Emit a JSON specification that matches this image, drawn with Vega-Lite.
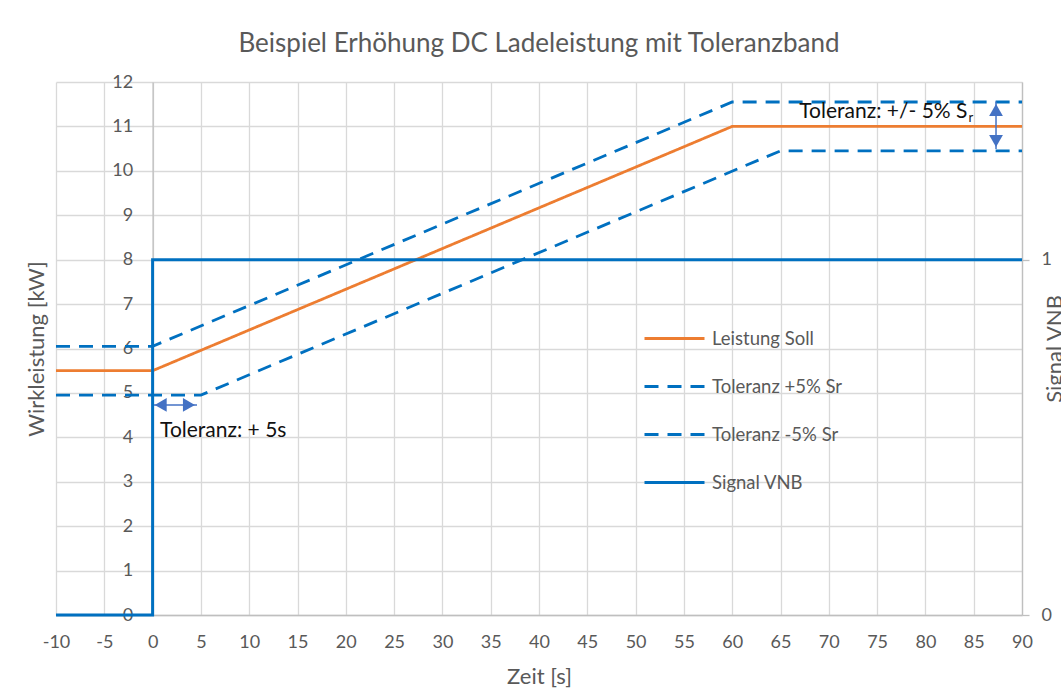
{
  "$schema": "https://vega.github.io/schema/vega-lite/v6.json",
  "width": 966,
  "height": 533,
  "autosize": "none",
  "padding": {"left": 56, "top": 82, "right": 39, "bottom": 74},
  "background": "white",
  "title": {
    "text": "Beispiel Erhöhung DC Ladeleistung mit Toleranzband",
    "font": "Lato", "fontSize": 26, "fontWeight": "normal", "color": "#595959",
    "anchor": "middle", "offset": 16
  },
  "config": {
    "view": {"stroke": null},
    "font": "Lato",
    "axis": {
      "labelFont": "Lato", "labelFontSize": 18, "labelColor": "#595959", "labelFlush": false,
      "titleFont": "Lato", "titleFontSize": 22, "titleColor": "#595959", "titleFontWeight": "normal",
      "gridColor": "#D9D9D9", "gridWidth": 1.3, "domainColor": "#BFBFBF", "domainWidth": 1.3,
      "tickColor": "#BFBFBF", "tickWidth": 1.3
    },
    "legend": {
      "orient": "none", "legendX": 587, "legendY": 225,
      "symbolType": "stroke", "symbolSize": 3600, "symbolStrokeWidth": 3,
      "labelFont": "Lato", "labelFontSize": 18.5, "labelColor": "#595959",
      "labelOffset": 6, "rowPadding": 7, "title": null
    }
  },
  "resolve": {"scale": {"y": "independent"}},
  "layer": [
    {
      "layer": [
        {
          "data": {"values": [
            {"series": "Leistung Soll", "t": -10, "kw": 5.5},
            {"series": "Leistung Soll", "t": 0, "kw": 5.5},
            {"series": "Leistung Soll", "t": 60, "kw": 11},
            {"series": "Leistung Soll", "t": 90, "kw": 11},
            {"series": "Toleranz +5% Sr", "t": -10, "kw": 6.05},
            {"series": "Toleranz +5% Sr", "t": 0, "kw": 6.05},
            {"series": "Toleranz +5% Sr", "t": 60, "kw": 11.55},
            {"series": "Toleranz +5% Sr", "t": 90, "kw": 11.55},
            {"series": "Toleranz -5% Sr", "t": -10, "kw": 4.95},
            {"series": "Toleranz -5% Sr", "t": 5, "kw": 4.95},
            {"series": "Toleranz -5% Sr", "t": 65, "kw": 10.45},
            {"series": "Toleranz -5% Sr", "t": 90, "kw": 10.45}
          ]},
          "mark": {"type": "line", "strokeWidth": 2.8},
          "encoding": {
            "x": {
              "field": "t", "type": "quantitative",
              "scale": {"domain": [-10, 90], "nice": false, "zero": false},
              "axis": {
                "title": "Zeit [s]", "values": [-10, -5, 0, 5, 10, 15, 20, 25, 30, 35, 40, 45, 50, 55, 60, 65, 70, 75, 80, 85, 90],
                "labelExpr": "toString(datum.value)",
                "ticks": false, "labelPadding": 18, "grid": true,
                "titleY": 68, "titleBaseline": "alphabetic"
              }
            },
            "y": {
              "field": "kw", "type": "quantitative",
              "scale": {"domain": [0, 12], "nice": false},
              "axis": {
                "title": "Wirkleistung [kW]", "values": [0, 1, 2, 3, 4, 5, 6, 7, 8, 9, 10, 11, 12],
                "ticks": false, "labelPadding": 20, "grid": true, "offset": -96.6,
                "titleX": -109, "titleY": 266.5, "titleBaseline": "alphabetic", "titleAngle": 270
              }
            },
            "color": {
              "field": "series", "type": "nominal",
              "scale": {
                "domain": ["Leistung Soll", "Toleranz +5% Sr", "Toleranz -5% Sr", "Signal VNB"],
                "range": ["#ED7D31", "#0070C0", "#0070C0", "#0070C0"]
              }
            },
            "strokeDash": {
              "field": "series", "type": "nominal",
              "scale": {
                "domain": ["Leistung Soll", "Toleranz +5% Sr", "Toleranz -5% Sr", "Signal VNB"],
                "range": [[1, 0], [14, 9], [14, 9], [1, 0]]
              }
            }
          }
        },
        {
          "data": {"values": [
            {"t": 0, "t2": 4.6, "kw": 4.73, "kw2": 4.73},
            {"t": 87.31, "t2": 87.31, "kw": 10.49, "kw2": 11.56}
          ]},
          "mark": {"type": "rule", "color": "#4472C4", "strokeWidth": 1.5},
          "encoding": {
            "x": {"field": "t", "type": "quantitative", "title": "Zeit [s]"},
            "x2": {"field": "t2"},
            "y": {"field": "kw", "type": "quantitative", "title": "Wirkleistung [kW]"},
            "y2": {"field": "kw2"}
          }
        },
        {
          "data": {"values": [
            {"t": 0.84, "kw": 4.73, "shape": "triangle-left"},
            {"t": 3.76, "kw": 4.73, "shape": "triangle-right"},
            {"t": 87.31, "kw": 11.37, "shape": "triangle-up"},
            {"t": 87.31, "kw": 10.67, "shape": "triangle-down"}
          ]},
          "mark": {"type": "point", "filled": true, "color": "#4472C4", "size": 190, "opacity": 1},
          "encoding": {
            "x": {"field": "t", "type": "quantitative", "title": "Zeit [s]"},
            "y": {"field": "kw", "type": "quantitative", "title": "Wirkleistung [kW]"},
            "shape": {"field": "shape", "type": "nominal", "scale": null, "legend": null}
          }
        },
        {
          "data": {"values": [
            {"t": 0.77, "kw": 4.01, "label": "Toleranz: + 5s"}
          ]},
          "mark": {"type": "text", "font": "Lato", "fontSize": 21, "color": "#111111", "baseline": "alphabetic", "align": "left"},
          "encoding": {
            "x": {"field": "t", "type": "quantitative", "title": "Zeit [s]"},
            "y": {"field": "kw", "type": "quantitative", "title": "Wirkleistung [kW]"},
            "text": {"field": "label"}
          }
        },
        {
          "data": {"values": [
            {"t": 84.35, "kw": 11.19, "label": "Toleranz: +/- 5% S"}
          ]},
          "mark": {"type": "text", "font": "Lato", "fontSize": 21, "color": "#111111", "baseline": "alphabetic", "align": "right"},
          "encoding": {
            "x": {"field": "t", "type": "quantitative", "title": "Zeit [s]"},
            "y": {"field": "kw", "type": "quantitative", "title": "Wirkleistung [kW]"},
            "text": {"field": "label"}
          }
        },
        {
          "data": {"values": [
            {"t": 84.45, "kw": 11.1, "label": "r"}
          ]},
          "mark": {"type": "text", "font": "Lato", "fontSize": 13, "color": "#111111", "baseline": "alphabetic", "align": "left"},
          "encoding": {
            "x": {"field": "t", "type": "quantitative", "title": "Zeit [s]"},
            "y": {"field": "kw", "type": "quantitative", "title": "Wirkleistung [kW]"},
            "text": {"field": "label"}
          }
        }
      ]
    },
    {
      "data": {"values": [
        {"series": "Signal VNB", "i": 1, "t": -10, "signal": 0},
        {"series": "Signal VNB", "i": 2, "t": 0, "signal": 0},
        {"series": "Signal VNB", "i": 3, "t": 0, "signal": 1},
        {"series": "Signal VNB", "i": 4, "t": 90, "signal": 1}
      ]},
      "mark": {"type": "line", "strokeWidth": 3},
      "encoding": {
        "x": {"field": "t", "type": "quantitative", "title": "Zeit [s]"},
        "y": {
          "field": "signal", "type": "quantitative",
          "scale": {"domain": [0, 1.5], "nice": false},
          "axis": {
            "orient": "right", "title": "Signal VNB", "values": [0, 1], "grid": false,
            "ticks": true, "tickSize": 7, "labelPadding": 12,
            "titleAngle": 270, "titleX": 39, "titleY": 266.5, "titleBaseline": "alphabetic"
          }
        },
        "order": {"field": "i", "type": "quantitative"},
        "color": {"field": "series", "type": "nominal"},
        "strokeDash": {"field": "series", "type": "nominal"}
      }
    }
  ]
}
